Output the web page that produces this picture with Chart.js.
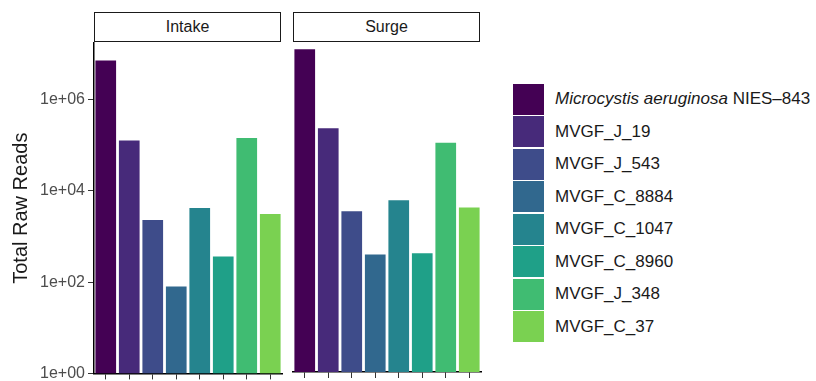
<!DOCTYPE html>
<html>
<head>
<meta charset="utf-8">
<script src="https://cdn.jsdelivr.net/npm/chart.js@4.4.1/dist/chart.umd.min.js"></script>
<style>
	body { margin: 0; background: #fff; font-family: "Liberation Sans", Arial, sans-serif; }
	#wrap { position: relative; width: 816px; height: 381px; overflow: hidden; }
	.strip { position: absolute; top: 12px; height: 28px; border: 1.5px solid #1a1a1a; background: #fff;
		text-align: center; line-height: 28px; font-size: 16px; color: #1a1a1a; box-sizing: content-box; }
	#legend { position: absolute; left: 513px; top: 83px; }
	.row { height: 32.5px; display: flex; align-items: center; }
	.sw { width: 31px; height: 31px; margin-right: 11px; }
	.lab { font-size: 17px; color: #1a1a1a; white-space: nowrap; }
</style>
</head>
<body>
<div id="wrap">
	<canvas id="c1" style="position:absolute;left:0;top:0;"></canvas>
	<canvas id="c2" style="position:absolute;left:285px;top:0;"></canvas>
	<div class="strip" style="left:94px;width:185px;">Intake</div>
	<div class="strip" style="left:293px;width:185px;">Surge</div>
	<div id="legend"></div>
</div>
<script>
//==========data==========
let genomes = ['Microcystis aeruginosa NIES-843', 'MVGF_J_19', 'MVGF_J_543', 'MVGF_C_8884',
	'MVGF_C_1047', 'MVGF_C_8960', 'MVGF_J_348', 'MVGF_C_37'];
let intake = [7200000, 126000, 2300, 80, 4200, 365, 143000, 3100];
let surge = [12600000, 230000, 3450, 385, 6000, 410, 111000, 4150];
let yTicks = [1, 100, 10000, 1000000];
let colors = ['#440154', '#472A7A', '#3E4C8A', '#31688E', '#25848E', '#1FA088', '#40BC72', '#7AD151'];
//========================

Chart.defaults.font.family = '"Liberation Sans", Arial, sans-serif';
Chart.defaults.animation = false;

// h: canvas height (the left one is taller, its bottom tick label eats some room)
function makeChart(id, w, h, vals, showY) {
	let cv = document.getElementById(id);
	cv.width = w; cv.height = h;
	cv.style.width = w + 'px'; cv.style.height = h + 'px';
	return new Chart(cv.getContext('2d'), {
		type: 'bar',
		data: {
			labels: genomes,
			datasets: [{
				data: vals,
				backgroundColor: colors,
				borderWidth: 0,
				barPercentage: 0.88,
				categoryPercentage: 1.0,
			}]
		},
		options: {
			responsive: false,
			plugins: { legend: { display: false }, tooltip: { enabled: false } },
			layout: { padding: { top: 43, right: showY ? 8 : 4, left: showY ? 0 : 8, bottom: 0 } },
			scales: {
				x: {
					grid: { offset: false, drawOnChartArea: false, drawTicks: true, tickLength: 6, tickColor: '#333' },
					border: { display: true, color: '#000', width: 1.5 },
					ticks: { callback: () => '', padding: 0 },
					afterFit: s => { s.height = 9; }
				},
				y: {
					type: 'logarithmic',
					display: showY,
					min: 1,
					max: 17300000,
					afterBuildTicks: s => { s.ticks = yTicks.map(v => ({ value: v })); },
					afterFit: s => { s.width = showY ? 94 : 0; },
					grid: { drawOnChartArea: false, drawTicks: true, tickLength: 6, tickColor: '#333' },
					border: { display: true, color: '#000', width: 1.5 },
					ticks: {
						color: '#4d4d4d',
						font: { size: 16 },
						padding: 3,
						callback: v => {
							let e = Math.round(Math.log10(v));
							return '1e+' + (e < 10 ? '0' + e : e);
						}
					},
					title: { display: true, text: 'Total Raw Reads', color: '#1a1a1a', font: { size: 20 }, padding: { top: 9 } }
				}
			}
		}
	});
}

const myChart1 = makeChart('c1', 290, 386, intake, true);
const myChart2 = makeChart('c2', 200, 381, surge, false);

// legend
let lg = document.getElementById('legend');
genomes.forEach((g, i) => {
	let row = document.createElement('div');
	row.className = 'row';
	let sw = document.createElement('div');
	sw.className = 'sw';
	sw.style.background = colors[i];
	let lab = document.createElement('div');
	lab.className = 'lab';
	if (i === 0) {
		lab.innerHTML = '<i>Microcystis aeruginosa</i> NIES\u2013843';
	} else {
		lab.textContent = g;
	}
	row.appendChild(sw);
	row.appendChild(lab);
	lg.appendChild(row);
});
</script>
</body>
</html>
